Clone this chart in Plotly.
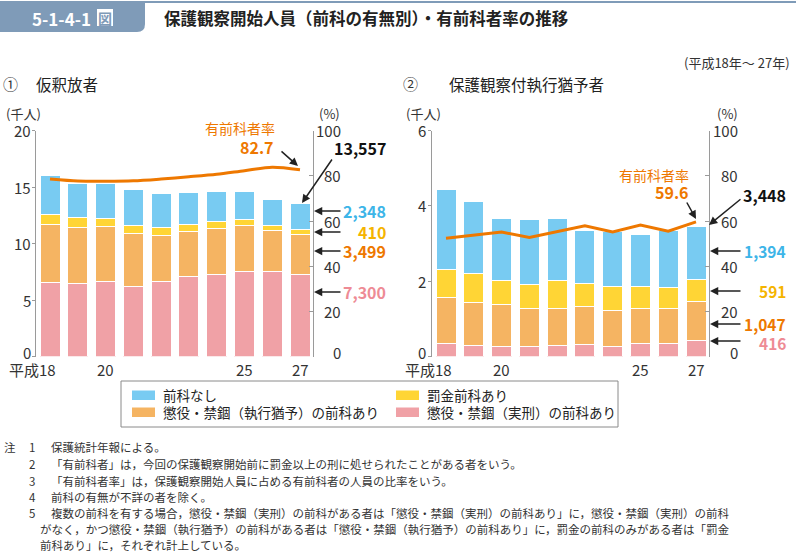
import plotly.graph_objects as go

W, H = 796, 554
FONT = "Noto Sans CJK JP"

# ---------------- data ----------------
years = [18, 19, 20, 21, 22, 23, 24, 25, 26, 27]
year_ticks = [18, 20, 25, 27]
year_ticktext = ["平成18", "20", "25", "27"]
left_ticks_1 = [0, 5, 10, 15, 20]
left_ticks_2 = [0, 2, 4, 6]
pct_ticks = [0, 20, 40, 60, 80, 100]

# ① 仮釈放者 (千人)
p_jikkei = [6.57, 6.51, 6.63, 6.24, 6.63, 7.07, 7.25, 7.54, 7.54, 7.300]
p_yuyo = [5.12, 4.94, 4.88, 4.68, 4.11, 4.02, 4.08, 4.09, 3.64, 3.499]
p_bakkin = [0.91, 0.86, 0.74, 0.71, 0.65, 0.60, 0.59, 0.47, 0.45, 0.410]
p_nashi = [3.44, 3.05, 3.11, 3.16, 3.05, 2.87, 2.72, 2.49, 2.25, 2.348]
p_rate = [78.6, 77.7, 77.6, 77.8, 78.6, 79.6, 80.7, 82.3, 83.8, 82.7]

# ② 保護観察付執行猶予者 (千人)
s_jikkei = [0.345, 0.28, 0.27, 0.27, 0.30, 0.33, 0.27, 0.34, 0.35, 0.416]
s_yuyo = [1.21, 1.16, 1.12, 1.01, 0.98, 0.99, 0.94, 0.93, 0.92, 1.047]
s_bakkin = [0.77, 0.77, 0.63, 0.64, 0.74, 0.62, 0.64, 0.60, 0.57, 0.591]
s_nashi = [2.11, 1.91, 1.66, 1.73, 1.64, 1.42, 1.47, 1.37, 1.50, 1.394]
s_rate = [52.4, 53.8, 55.1, 52.7, 55.4, 57.9, 55.2, 58.2, 55.5, 59.6]

series_names = ["懲役・禁錮（実刑）の前科あり", "懲役・禁錮（執行猶予）の前科あり", "罰金前科あり", "前科なし"]
bar_colors = ["#F0A1A6", "#F5B462", "#FFD535", "#78CBF2"]
line_color = "#EE7800"
label_colors = {"blue": "#3DB5E8", "yellow": "#F5B400", "orange": "#EE7800", "pink": "#EE8B95"}

# ---------------- helpers ----------------
def px(x):
    return x / W

def py(y):
    return 1 - y / H

fig = go.Figure()

for vals, name, col in zip([p_jikkei, p_yuyo, p_bakkin, p_nashi], series_names, bar_colors):
    fig.add_trace(go.Bar(x=years, y=vals, name=name, marker=dict(color=col, line=dict(color="white", width=1)),
                         width=0.72, xaxis="x", yaxis="y", showlegend=False))
fig.add_trace(go.Scatter(x=years, y=p_rate, mode="lines", line=dict(color=line_color, width=3, shape="spline", smoothing=0.8),
                         xaxis="x", yaxis="y2", showlegend=False))

for vals, name, col in zip([s_jikkei, s_yuyo, s_bakkin, s_nashi], series_names, bar_colors):
    fig.add_trace(go.Bar(x=years, y=vals, name=name, marker=dict(color=col, line=dict(color="white", width=1)),
                         width=0.72, xaxis="x2", yaxis="y3", showlegend=False))
fig.add_trace(go.Scatter(x=years, y=s_rate, mode="lines", line=dict(color=line_color, width=3),
                         xaxis="x2", yaxis="y4", showlegend=False))

ydom = [py(356.5), py(130.7)]
xr = [17.496, 27.468]
axis_col = "#9A9A9A"
tickfont = dict(family=FONT, size=15, color="#333333")

common = dict(showgrid=False, zeroline=False, automargin=False, fixedrange=True)
fig.update_layout(
    template="none",
    width=W, height=H, margin=dict(l=0, r=0, t=0, b=0, pad=0, autoexpand=False),
    paper_bgcolor="white", plot_bgcolor="rgba(0,0,0,0)",
    barmode="stack", font=dict(family=FONT, color="#333333"),
    xaxis=dict(domain=[px(36), px(313)], range=xr, showticklabels=False, ticks="", showline=False,
               anchor="y", **common),
    yaxis=dict(domain=ydom, range=[0, 20], tickvals=left_ticks_1, ticks="outside", ticklen=3,
               tickcolor=axis_col, showline=True, linecolor=axis_col, linewidth=1.3,
               showticklabels=False, anchor="x", **common),
    yaxis2=dict(range=[0, 100], overlaying="y", side="right", anchor="x", tickvals=pct_ticks,
                ticks="inside", ticklen=4, tickcolor=axis_col, showline=True, linecolor=axis_col, linewidth=1.3,
                showticklabels=False, **common),
    xaxis2=dict(domain=[px(432), px(709)], range=xr, showticklabels=False, ticks="", showline=False,
                anchor="y3", **common),
    yaxis3=dict(domain=ydom, range=[0, 6], tickvals=left_ticks_2, ticks="outside", ticklen=3,
                tickcolor=axis_col, showline=True, linecolor=axis_col, linewidth=1.3,
                showticklabels=False, anchor="x2", **common),
    yaxis4=dict(range=[0, 100], overlaying="y3", side="right", anchor="x2", tickvals=pct_ticks,
                ticks="inside", ticklen=4, tickcolor=axis_col, showline=True, linecolor=axis_col, linewidth=1.3,
                showticklabels=False, **common),
)

ann = []
shapes = []

def text(x, y, s, size=13, color="#333333", anchor="left", bold=False, yanchor="middle"):
    ann.append(dict(x=px(x), y=py(y), xref="paper", yref="paper", text=f"<b>{s}</b>" if bold else s,
                    showarrow=False, xanchor=anchor, yanchor=yanchor,
                    font=dict(family=FONT, size=size, color=color)))

def arrow(tx, ty, hx, hy):
    ann.append(dict(x=px(hx), y=py(hy), xref="paper", yref="paper", text="", showarrow=True,
                    ax=tx - hx, ay=ty - hy, axref="pixel", ayref="pixel",
                    arrowhead=2, arrowsize=1.1, arrowwidth=1.5, arrowcolor="#222222", standoff=0, startstandoff=0))

# ---------------- header ----------------
hdr = "#7F9BB8"
shapes.append(dict(type="line", xref="paper", yref="paper", x0=0, x1=1, y0=py(2), y1=py(2),
                   line=dict(color=hdr, width=2)))
shapes.append(dict(type="path", xref="paper", yref="paper",
                   path=f"M {px(0)},{py(2)} L {px(145)},{py(2)} L {px(145)},{py(24)} Q {px(145)},{py(32)} {px(137)},{py(32)} L {px(0)},{py(32)} Z",
                   fillcolor=hdr, line=dict(width=0)))
shapes.append(dict(type="rect", xref="paper", yref="paper", x0=px(97), x1=px(113), y0=py(26), y1=py(9),
                   fillcolor="white", line=dict(width=0)))
text(30, 18, "5-1-4-1", size=17, color="white", bold=True)
text(105, 18, "図", size=14, color=hdr, anchor="center", bold=True)
text(162, 18, "保護観察開始人員（前科の有無別）・有前科者率の推移", size=16.5, color="#222222", bold=True)
text(792, 62, "(平成18年～ 27年)", size=13, anchor="right")
text(1, 84, "①", size=15)
text(34, 84, "仮釈放者", size=15.5, color="#222222")
text(401, 84, "②", size=15)
text(447, 84, "保護観察付執行猶予者", size=15.5, color="#222222")

# ---------------- axis titles / tick labels ----------------
text(23, 113, "(千人)", size=13, anchor="center")
text(329, 113, "(%)", size=13, anchor="center")
text(423, 113, "(千人)", size=13, anchor="center")
text(727, 113, "(%)", size=13, anchor="center")

def ytick_labels(vals, yref, xright):
    for v in vals:
        ann.append(dict(x=px(xright), y=v, xref="paper", yref=yref, text=str(v), showarrow=False,
                        xanchor="right", yanchor="middle", yshift=4 if v == 0 else 0, font=tickfont))

ytick_labels(left_ticks_1, "y", 33)
ytick_labels(pct_ticks, "y2", 343)
ytick_labels(left_ticks_2, "y3", 428)
ytick_labels(pct_ticks, "y4", 740)

# x tick labels
for xa in ["x", "x2"]:
    for v, t in zip(year_ticks, year_ticktext):
        ann.append(dict(x=v, y=py(369), xref=xa, yref="paper", text=t, showarrow=False,
                        xanchor="right" if t.startswith("平成") else "center", xshift=8 if t.startswith("平成") else 0,
                        yanchor="middle", font=tickfont))

# ---------------- value callouts: left ----------------
text(240, 128, "有前科者率", size=14, color=line_color, anchor="center")
text(257, 147, "82.7", size=16, color=line_color, anchor="center", bold=True)
arrow(280, 150, 298, 166)
text(388, 148, "13,557", size=16, color="#111111", anchor="right", bold=True)
arrow(333, 158, 302, 203)
for yv, s, c in [(211, "2,348", "blue"), (232, "410", "yellow"), (251, "3,499", "orange"), (292, "7,300", "pink")]:
    text(388, yv, s, size=16, color=label_colors[c], anchor="right", bold=True)
    arrow(342, yv, 314, yv)

# ---------------- value callouts: right ----------------
text(654, 175, "有前科者率", size=14, color=line_color, anchor="center")
text(672, 192, "59.6", size=16, color=line_color, anchor="center", bold=True)
arrow(686, 201, 696, 219)
text(788, 195, "3,448", size=16, color="#111111", anchor="right", bold=True)
arrow(742, 198, 709, 225)
for yv, s, c in [(251, "1,394", "blue"), (291, "591", "yellow"), (324, "1,047", "orange"), (343, "416", "pink")]:
    text(788, yv, s, size=15.5, color=label_colors[c], anchor="right", bold=True)
    arrow(742, yv if c != "pink" else 341, 710, yv if c != "pink" else 341)

# ---------------- legend ----------------
shapes.append(dict(type="rect", xref="paper", yref="paper", x0=px(121), x1=px(618), y0=py(427), y1=py(381),
                   line=dict(color="#8A8A8A", width=1), fillcolor="white"))
leg = [(132, 395, series_names[3], bar_colors[3]), (396, 395, series_names[2], bar_colors[2]),
       (132, 412, series_names[1], bar_colors[1]), (396, 412, series_names[0], bar_colors[0])]
for lx, ly, name, col in leg:
    shapes.append(dict(type="rect", xref="paper", yref="paper", x0=px(lx), x1=px(lx + 23), y0=py(ly + 5), y1=py(ly - 4.5),
                       fillcolor=col, line=dict(width=0)))
    text(lx + 29, ly, name, size=13.5, color="#222222")

# ---------------- notes ----------------
notes = [
    (447, "1", "保護統計年報による。"),
    (464, "2", "「有前科者」は，今回の保護観察開始前に罰金以上の刑に処せられたことがある者をいう。"),
    (481, "3", "「有前科者率」は，保護観察開始人員に占める有前科者の人員の比率をいう。"),
    (497, "4", "前科の有無が不詳の者を除く。"),
    (513, "5", "複数の前科を有する場合，懲役・禁錮（実刑）の前科がある者は「懲役・禁錮（実刑）の前科あり」に，懲役・禁錮（実刑）の前科"),
]
text(2, 447, "注", size=11.5)
for yv, n, s in notes:
    text(27, yv, n, size=11.5)
    text(49, yv, s, size=11.5)
text(38, 529, "がなく，かつ懲役・禁錮（執行猶予）の前科がある者は「懲役・禁錮（執行猶予）の前科あり」に，罰金の前科のみがある者は「罰金", size=11.5)
text(38, 545, "前科あり」に，それぞれ計上している。", size=11.5)

fig.update_layout(annotations=ann, shapes=shapes)
post = ("document.documentElement.style.margin='0';document.body.style.margin='0';"
        "document.body.style.padding='0';document.body.style.overflow='hidden';"
        "var d=document.querySelector('.plotly-graph-div');"
        "d.style.position='fixed';d.style.top='0px';d.style.left='0px';")
fig.write_html("out.html", config={"displayModeBar": False}, post_script=post)
